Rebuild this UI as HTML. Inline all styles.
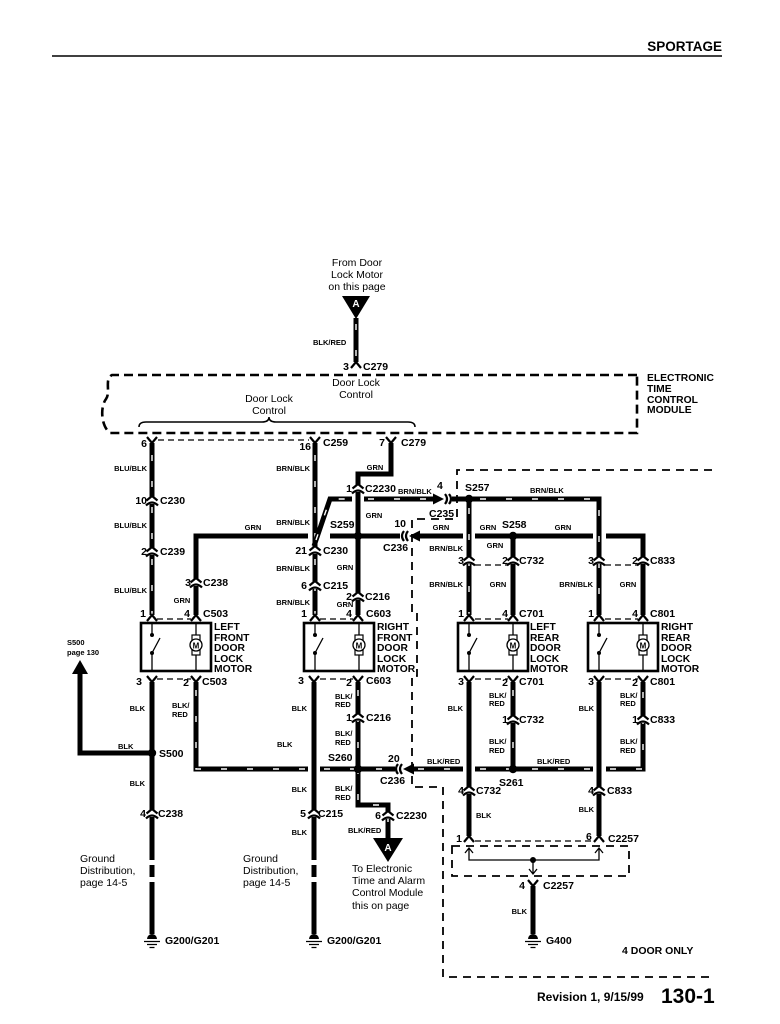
<!DOCTYPE html>
<html><head><meta charset="utf-8">
<style>
html,body{margin:0;padding:0;background:#fff;}
svg{display:block}
text{font-family:"Liberation Sans",Arial,sans-serif;fill:#000}
.w{stroke:#000;stroke-width:5;fill:none;stroke-linejoin:miter}
.s{stroke:#fff;stroke-width:1.4;fill:none;stroke-dasharray:6 20}
.t{stroke:#000;stroke-width:1.3;fill:none}
.pd{stroke:#000;stroke-width:1.3;fill:none;stroke-dasharray:6 4}
.md{stroke:#000;stroke-width:2.6;fill:none;stroke-dasharray:9 5}
.rd{stroke:#000;stroke-width:1.8;fill:none;stroke-dasharray:8 6}
.c{stroke:#000;stroke-width:2.2;fill:none}
.wl{font-size:7.5px;font-weight:bold}
.pn{font-size:10.5px;font-weight:bold}
.mt{font-size:10.3px;font-weight:bold}
.rg{font-size:10.5px}
.wh{fill:#fff;font-size:10px;font-weight:bold}
</style></head><body>
<svg width="780" height="1024" viewBox="0 0 780 1024" xmlns="http://www.w3.org/2000/svg">
<defs>
<g id="icv"><rect x="-7" y="-3" width="14" height="7" fill="#fff"/><path class="c" d="M-5.5,0.5 L0,-4 L5.5,0.5"/><path class="c" d="M-6,5.5 Q0,-0.5 6,5.5"/></g>
<g id="yu"><path class="c" d="M-5,-6 L0,0 L5,-6"/></g>
<g id="yd"><path class="c" d="M-5,6 L0,0 L5,6"/></g>
<g id="gnd"><path d="M-5,0 A5,5 0 0 1 5,0 Z" fill="#000"/><path class="t" d="M-8,2.5 H8 M-5,5.5 H5 M-2.5,8.5 H2.5"/></g>
<g id="mot">
<rect x="0" y="0" width="70" height="48" fill="#fff" stroke="#000" stroke-width="2.6"/>
<path class="t" d="M11,0 V12 M11,30 V48 M11,30 L19,15"/>
<circle cx="11" cy="12" r="2"/><circle cx="11" cy="30" r="2"/>
<path class="t" d="M55,0 V48"/>
<rect x="51" y="12" width="8" height="20" fill="#fff" stroke="#000" stroke-width="1.2"/>
<circle cx="55" cy="22" r="6" fill="#fff" stroke="#000" stroke-width="1.3"/>
<text x="55" y="25.3" font-size="8" font-weight="bold" text-anchor="middle">M</text>
</g>
</defs>

<!-- header -->
<text x="722" y="51" text-anchor="end" font-size="13.5" font-weight="bold">SPORTAGE</text>
<line x1="52" y1="56" x2="722" y2="56" stroke="#000" stroke-width="1.6"/>

<!-- top A -->
<text class="rg" x="357" y="266" text-anchor="middle">From Door</text>
<text class="rg" x="357" y="278" text-anchor="middle">Lock Motor</text>
<text class="rg" x="357" y="290" text-anchor="middle">on this page</text>
<polygon points="342,296 370,296 356,319" fill="#000"/>
<text class="wh" x="356" y="307" text-anchor="middle">A</text>

<!-- module -->
<path class="md" d="M637,375 H112 C104,379 111,392 106,399 C100,407 101,426 110,433 H637 V375"/>
<text class="rg" x="356" y="386" text-anchor="middle">Door Lock</text>
<text class="rg" x="356" y="398" text-anchor="middle">Control</text>
<text class="rg" x="269" y="402" text-anchor="middle">Door Lock</text>
<text class="rg" x="269" y="414" text-anchor="middle">Control</text>
<path d="M139,427 Q139,422 146,422 H262 Q269,422 269,417 Q269,422 276,422 H408 Q415,422 415,427" stroke="#000" stroke-width="1.6" fill="none"/>
<text class="mt" x="647" y="381">ELECTRONIC</text>
<text class="mt" x="647" y="392">TIME</text>
<text class="mt" x="647" y="403">CONTROL</text>
<text class="mt" x="647" y="413">MODULE</text>

<!-- 4 door dashed region -->
<path class="rd" d="M712,470 H457 V519 H412 V613 H417 V676 H412 V787 H443 V977 H715"/>

<!-- solid wires -->
<path class="w" d="M196,615 V536 H308"/>
<path class="w" d="M391,443 V474 H358 V615"/>
<path class="w" d="M330,536 H400"/>
<path class="w" d="M420,536 H463"/>
<path class="w" d="M475,536 H593"/>
<path class="w" d="M606,536 H643 V615"/>
<path class="w" d="M513,536 V615"/>
<path class="w" d="M152,682 V860 M152,865 V877 M152,882 V934"/>
<path class="w" d="M152,753 H80 V672"/>
<polygon points="72,674 88,674 80,660" fill="#000"/>
<path class="w" d="M314,682 V860 M314,865 V877 M314,882 V934"/>
<path class="w" d="M469,682 V836"/>
<path class="w" d="M599,682 V836"/>
<path class="w" d="M533,886 V934"/>

<!-- striped wires -->
<g>
<path class="w" d="M356,318 V362"/><path class="s" d="M356,324 V362"/>
<path class="w" d="M152,443 V615"/><path class="s" d="M152,455 V615"/>
<path class="w" d="M315,443 V615"/><path class="s" d="M315,455 V615"/>
<path class="w" d="M314,546 L330,499 H352"/><path class="s" d="M316,540 L330,499 H352"/>
<path class="w" d="M364,499 H434"/><path class="s" d="M368,499 H434"/>
<path class="w" d="M452,499 H599 V615"/><path class="s" d="M480,499 H599 V615"/>
<path class="w" d="M469,499 V615"/><path class="s" d="M469,508 V615"/>
<path class="w" d="M196,682 V769 H308"/><path class="s" d="M196,690 V769 H308"/>
<path class="w" d="M320,769 H395"/><path class="s" d="M324,769 H395"/>
<path class="w" d="M413,769 H463"/><path class="s" d="M418,769 H463"/>
<path class="w" d="M475,769 H593"/><path class="s" d="M480,769 H593"/>
<path class="w" d="M606,769 H643 V682"/><path class="s" d="M610,769 H643 V682"/>
<path class="w" d="M513,682 V769"/><path class="s" d="M513,690 V769"/>
<path class="w" d="M358,682 V805 H388 V838"/><path class="s" d="M358,690 V805 H388 V838"/>
</g>

<!-- C235 / C236 -->
<polygon points="433,493.5 444,499 433,504.5" fill="#000"/>
<path class="c" d="M445,494 Q449,499 445,504 M449,494 Q453,499 449,504" stroke-width="1.8"/>
<path class="c" d="M404,531 Q400,536 404,541 M408,531 Q404,536 408,541" stroke-width="1.8"/>
<polygon points="409,536 420,530.5 420,541.5" fill="#000"/>
<path class="c" d="M398,764 Q394,769 398,774 M402,764 Q398,769 402,774" stroke-width="1.8"/>
<polygon points="403,769 414,763.5 414,774.5" fill="#000"/>

<!-- end connectors -->
<use href="#yd" x="356" y="362"/>
<use href="#yu" x="152" y="443"/><use href="#yu" x="315" y="443"/><use href="#yu" x="391" y="443"/>
<use href="#yd" x="152" y="615"/><use href="#yd" x="196" y="615"/>
<use href="#yd" x="315" y="615"/><use href="#yd" x="358" y="615"/>
<use href="#yd" x="469" y="615"/><use href="#yd" x="513" y="615"/>
<use href="#yd" x="599" y="615"/><use href="#yd" x="643" y="615"/>
<use href="#yu" x="152" y="682"/><use href="#yu" x="196" y="682"/>
<use href="#yu" x="314" y="682"/><use href="#yu" x="358" y="682"/>
<use href="#yu" x="469" y="682"/><use href="#yu" x="513" y="682"/>
<use href="#yu" x="599" y="682"/><use href="#yu" x="643" y="682"/>
<use href="#yd" x="469" y="836"/><use href="#yd" x="599" y="836"/>
<use href="#yu" x="533" y="886"/>

<!-- inline connectors -->
<use href="#icv" x="152" y="500"/><use href="#icv" x="152" y="551"/>
<use href="#icv" x="196" y="582"/>
<use href="#icv" x="315" y="550"/><use href="#icv" x="315" y="585"/>
<use href="#icv" x="358" y="488"/><use href="#icv" x="358" y="596"/>
<use href="#icv" x="469" y="560"/><use href="#icv" x="513" y="560"/>
<use href="#icv" x="599" y="560"/><use href="#icv" x="643" y="560"/>
<use href="#icv" x="358" y="717"/><use href="#icv" x="513" y="719"/><use href="#icv" x="643" y="719"/>
<use href="#icv" x="469" y="790"/><use href="#icv" x="599" y="790"/>
<use href="#icv" x="152" y="813"/><use href="#icv" x="314" y="813"/>
<use href="#icv" x="388" y="815"/>

<!-- splices -->
<circle cx="358" cy="536" r="4.2"/><circle cx="469" cy="499" r="4.2"/>
<circle cx="513" cy="536" r="4.2"/><circle cx="152" cy="753" r="4.2"/>
<circle cx="358" cy="769" r="4.2"/><circle cx="513" cy="769" r="4.2"/>

<!-- pin dashed links -->
<path class="pd" d="M158,440 H309"/>
<path class="pd" d="M157,619 H191 M320,619 H353 M475,619 H508 M605,619 H638"/>
<path class="pd" d="M157,679 H191 M320,679 H353 M475,679 H508 M605,679 H638"/>
<path class="pd" d="M475,565 H508 M605,565 H638"/>
<path class="pd" d="M475,841 H594"/>

<!-- motors -->
<use href="#mot" x="141" y="623"/>
<use href="#mot" x="304" y="623"/>
<use href="#mot" x="458" y="623"/>
<use href="#mot" x="588" y="623"/>
<g class="mt">
<text x="214" y="630">LEFT</text><text x="214" y="641">FRONT</text><text x="214" y="651">DOOR</text><text x="214" y="662">LOCK</text><text x="214" y="672">MOTOR</text>
<text x="377" y="630">RIGHT</text><text x="377" y="641">FRONT</text><text x="377" y="651">DOOR</text><text x="377" y="662">LOCK</text><text x="377" y="672">MOTOR</text>
<text x="530" y="630">LEFT</text><text x="530" y="641">REAR</text><text x="530" y="651">DOOR</text><text x="530" y="662">LOCK</text><text x="530" y="672">MOTOR</text>
<text x="661" y="630">RIGHT</text><text x="661" y="641">REAR</text><text x="661" y="651">DOOR</text><text x="661" y="662">LOCK</text><text x="661" y="672">MOTOR</text>
</g>

<!-- C2257 box -->
<rect x="452" y="846" width="177" height="30" class="rd" stroke-width="2.2"/>
<path class="t" d="M465,853 L469,848 L473,853 M595,853 L599,848 L603,853 M469,848 V860 H599 V848 M533,860 V874 M529,869 L533,874 L537,869"/>
<circle cx="533" cy="860" r="3"/>

<!-- bottom A -->
<polygon points="373,838 403,838 388,862" fill="#000"/>
<text class="wh" x="388" y="851" text-anchor="middle">A</text>

<!-- grounds -->
<use href="#gnd" x="152" y="939"/><use href="#gnd" x="314" y="939"/><use href="#gnd" x="533" y="939"/>

<!-- wire labels -->
<g class="wl">
<text x="313" y="345">BLK/RED</text>
<text x="147" y="471" text-anchor="end">BLU/BLK</text>
<text x="147" y="528" text-anchor="end">BLU/BLK</text>
<text x="147" y="593" text-anchor="end">BLU/BLK</text>
<text x="310" y="471" text-anchor="end">BRN/BLK</text>
<text x="310" y="525" text-anchor="end">BRN/BLK</text>
<text x="310" y="571" text-anchor="end">BRN/BLK</text>
<text x="310" y="605" text-anchor="end">BRN/BLK</text>
<text x="253" y="530" text-anchor="middle">GRN</text>
<text x="182" y="603" text-anchor="middle">GRN</text>
<text x="375" y="470" text-anchor="middle">GRN</text>
<text x="374" y="518" text-anchor="middle">GRN</text>
<text x="345" y="570" text-anchor="middle">GRN</text>
<text x="345" y="607" text-anchor="middle">GRN</text>
<text x="398" y="494">BRN/BLK</text>
<text x="441" y="530" text-anchor="middle">GRN</text>
<text x="463" y="551" text-anchor="end">BRN/BLK</text>
<text x="488" y="530" text-anchor="middle">GRN</text>
<text x="495" y="548" text-anchor="middle">GRN</text>
<text x="563" y="530" text-anchor="middle">GRN</text>
<text x="530" y="493">BRN/BLK</text>
<text x="463" y="587" text-anchor="end">BRN/BLK</text>
<text x="498" y="587" text-anchor="middle">GRN</text>
<text x="593" y="587" text-anchor="end">BRN/BLK</text>
<text x="628" y="587" text-anchor="middle">GRN</text>
<text x="145" y="711" text-anchor="end">BLK</text>
<text x="172" y="708">BLK/</text><text x="172" y="717">RED</text>
<text x="118" y="749">BLK</text>
<text x="145" y="786" text-anchor="end">BLK</text>
<text x="307" y="711" text-anchor="end">BLK</text>
<text x="277" y="747">BLK</text>
<text x="335" y="699">BLK/</text><text x="335" y="707">RED</text>
<text x="335" y="736">BLK/</text><text x="335" y="745">RED</text>
<text x="307" y="792" text-anchor="end">BLK</text>
<text x="335" y="791">BLK/</text><text x="335" y="800">RED</text>
<text x="307" y="835" text-anchor="end">BLK</text>
<text x="348" y="833">BLK/RED</text>
<text x="427" y="764">BLK/RED</text>
<text x="537" y="764">BLK/RED</text>
<text x="463" y="711" text-anchor="end">BLK</text>
<text x="489" y="698">BLK/</text><text x="489" y="706">RED</text>
<text x="489" y="744">BLK/</text><text x="489" y="753">RED</text>
<text x="476" y="818">BLK</text>
<text x="594" y="711" text-anchor="end">BLK</text>
<text x="620" y="698">BLK/</text><text x="620" y="706">RED</text>
<text x="620" y="744">BLK/</text><text x="620" y="753">RED</text>
<text x="594" y="812" text-anchor="end">BLK</text>
<text x="527" y="914" text-anchor="end">BLK</text>
<text x="67" y="645">S500</text>
<text x="67" y="655">page 130</text>
</g>

<!-- pin & connector labels -->
<g class="pn">
<text x="349" y="370" text-anchor="end">3</text><text x="363" y="370">C279</text>
<text x="147" y="447" text-anchor="end">6</text>
<text x="311" y="450" text-anchor="end">16</text><text x="323" y="446">C259</text>
<text x="385" y="446" text-anchor="end">7</text><text x="401" y="446">C279</text>
<text x="147" y="504" text-anchor="end">10</text><text x="160" y="504">C230</text>
<text x="147" y="555" text-anchor="end">2</text><text x="160" y="555">C239</text>
<text x="146" y="617" text-anchor="end">1</text>
<text x="191" y="586" text-anchor="end">3</text><text x="203" y="586">C238</text>
<text x="190" y="617" text-anchor="end">4</text><text x="203" y="617">C503</text>
<text x="307" y="554" text-anchor="end">21</text><text x="323" y="554">C230</text>
<text x="307" y="589" text-anchor="end">6</text><text x="323" y="589">C215</text>
<text x="307" y="617" text-anchor="end">1</text>
<text x="352" y="492" text-anchor="end">1</text><text x="365" y="492">C2230</text>
<text x="330" y="528">S259</text>
<text x="352" y="600" text-anchor="end">2</text><text x="365" y="600">C216</text>
<text x="352" y="617" text-anchor="end">4</text><text x="366" y="617">C603</text>
<text x="437" y="489">4</text>
<text x="429" y="517">C235</text>
<text x="406" y="527" text-anchor="end">10</text>
<text x="383" y="551">C236</text>
<text x="465" y="491">S257</text>
<text x="502" y="528">S258</text>
<text x="464" y="564" text-anchor="end">3</text><text x="508" y="564" text-anchor="end">2</text><text x="519" y="564">C732</text>
<text x="594" y="564" text-anchor="end">3</text><text x="638" y="564" text-anchor="end">2</text><text x="650" y="564">C833</text>
<text x="464" y="617" text-anchor="end">1</text><text x="508" y="617" text-anchor="end">4</text><text x="519" y="617">C701</text>
<text x="594" y="617" text-anchor="end">1</text><text x="638" y="617" text-anchor="end">4</text><text x="650" y="617">C801</text>
<text x="142" y="685" text-anchor="end">3</text><text x="189" y="686" text-anchor="end">2</text><text x="202" y="685">C503</text>
<text x="304" y="684" text-anchor="end">3</text><text x="352" y="686" text-anchor="end">2</text><text x="366" y="684">C603</text>
<text x="464" y="685" text-anchor="end">3</text><text x="508" y="686" text-anchor="end">2</text><text x="519" y="685">C701</text>
<text x="594" y="685" text-anchor="end">3</text><text x="638" y="686" text-anchor="end">2</text><text x="650" y="685">C801</text>
<text x="159" y="757">S500</text>
<text x="352" y="721" text-anchor="end">1</text><text x="366" y="721">C216</text>
<text x="328" y="761">S260</text>
<text x="388" y="762">20</text>
<text x="380" y="784">C236</text>
<text x="508" y="723" text-anchor="end">1</text><text x="519" y="723">C732</text>
<text x="638" y="723" text-anchor="end">1</text><text x="650" y="723">C833</text>
<text x="499" y="786">S261</text>
<text x="464" y="794" text-anchor="end">4</text><text x="476" y="794">C732</text>
<text x="594" y="794" text-anchor="end">4</text><text x="607" y="794">C833</text>
<text x="146" y="817" text-anchor="end">4</text><text x="158" y="817">C238</text>
<text x="306" y="817" text-anchor="end">5</text><text x="318" y="817">C215</text>
<text x="381" y="819" text-anchor="end">6</text><text x="396" y="819">C2230</text>
<text x="462" y="842" text-anchor="end">1</text><text x="586" y="840">6</text><text x="608" y="842">C2257</text>
<text x="525" y="889" text-anchor="end">4</text><text x="543" y="889">C2257</text>
<text x="165" y="944">G200/G201</text>
<text x="327" y="944">G200/G201</text>
<text x="546" y="944">G400</text>
<text x="622" y="954">4 DOOR ONLY</text>
</g>

<!-- regular notes -->
<g class="rg">
<text x="80" y="862">Ground</text><text x="80" y="874">Distribution,</text><text x="80" y="886">page 14-5</text>
<text x="243" y="862">Ground</text><text x="243" y="874">Distribution,</text><text x="243" y="886">page 14-5</text>
<text x="352" y="872">To Electronic</text><text x="352" y="884">Time and Alarm</text><text x="352" y="896">Control Module</text><text x="352" y="909">this on page</text>
</g>

<!-- footer -->
<text x="537" y="1001" font-size="12" font-weight="bold">Revision 1, 9/15/99</text>
<text x="661" y="1003" font-size="21" font-weight="bold">130-1</text>
</svg>
</body></html>
